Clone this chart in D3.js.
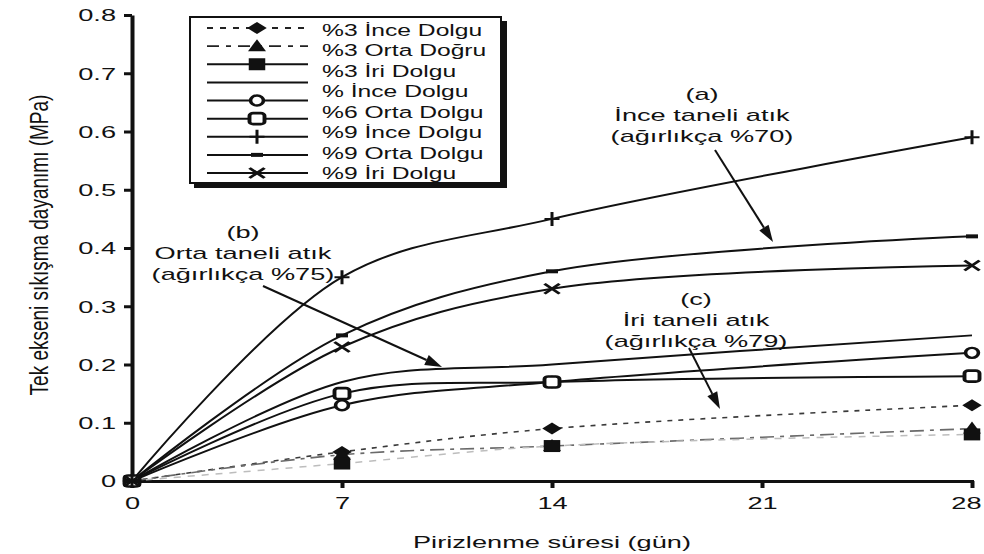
<!DOCTYPE html>
<html>
<head>
<meta charset="utf-8">
<script src="https://cdnjs.cloudflare.com/ajax/libs/d3/7.8.5/d3.min.js"></script>
<style>
  body { margin: 0; background: #fff; }
  svg { display: block; background: #fff; }
  text { font-family: "Liberation Sans", Arial, Helvetica, sans-serif; fill: #111; }
</style>
</head>
<body>
<svg id="chart" width="984" height="554"></svg>
<script>
// Curing time (days) at which specimens were tested
const days = [0, 7, 14, 28];
const xTickValues = [0, 7, 14, 21, 28];
const yTickValues = [0, 0.1, 0.2, 0.3, 0.4, 0.5, 0.6, 0.7, 0.8];

// Unconfined compressive strength (MPa) per mix
const s3Ince = [0, 0.05, 0.09, 0.13];
const s3Orta = [0, 0.045, 0.06, 0.09];
const s3Iri  = [0, 0.03, 0.06, 0.08];
const s6Ince = [0, 0.17, 0.20, 0.25];
const s6Orta = [0, 0.13, 0.17, 0.22];
const s6Iri  = [0, 0.15, 0.17, 0.18];
const s9Ince = [0, 0.35, 0.45, 0.59];
const s9Orta = [0, 0.25, 0.36, 0.42];
const s9Iri  = [0, 0.23, 0.33, 0.37];

const seriesValues  = [s3Ince, s3Orta, s3Iri, s6Ince, s6Orta, s6Iri, s9Ince, s9Orta, s9Iri];
const seriesSymbols = ["diamond", "triangle", "square", "none", "circle", "openSquare", "plus", "dash", "cross"];

// Legend text rows
const legendLabels = [
  "%3 İnce Dolgu", "%3 Orta Doğru", "%3 İri Dolgu", "% İnce Dolgu",
  "%6 Orta Dolgu", "%9 İnce Dolgu", "%9 Orta Dolgu", "%9 İri Dolgu"
];

// Callout texts
const noteA = ["(a)", "İnce taneli atık", "(ağırlıkça %70)"];
const noteB = ["(b)", "Orta taneli atık", "(ağırlıkça %75)"];
const noteC = ["(c)", "İri taneli atık", "(ağırlıkça %79)"];

const xTitle = "Pirizlenme süresi (gün)";
const yTitle = "Tek ekseni sıkışma dayanımı (MPa)";

// ---- styling ----
const SX = 1.6;          // horizontal text stretch
const LSX = 1.45;        // legend text stretch
const MSX = 1.5;         // horizontal marker stretch
const lineStyles = [
  { stroke: "#3a3a3a", width: 1.6, dash: "5,6" },
  { stroke: "#6a6a6a", width: 1.6, dash: "14,6,4,6" },
  { stroke: "#bdbdbd", width: 1.5, dash: "7,7" },
  { stroke: "#111", width: 2, dash: null },
  { stroke: "#111", width: 2, dash: null },
  { stroke: "#111", width: 2, dash: null },
  { stroke: "#111", width: 2, dash: null },
  { stroke: "#111", width: 2, dash: null },
  { stroke: "#111", width: 2, dash: null }
];
const legendLineStyles = [
  { stroke: "#222", width: 1.8, dash: "6,7" },
  { stroke: "#222", width: 1.8, dash: "12,7,5,7" },
  { stroke: "#111", width: 2, dash: null },
  { stroke: "#111", width: 2, dash: null },
  { stroke: "#111", width: 2, dash: null },
  { stroke: "#111", width: 2, dash: null },
  { stroke: "#111", width: 2, dash: null },
  { stroke: "#111", width: 2, dash: null },
  { stroke: "#111", width: 2, dash: null }
];

const svg = d3.select("#chart");

const x = d3.scaleLinear().domain([0, 28]).range([132, 972]);
const y = d3.scaleLinear().domain([0, 0.8]).range([481, 15]);

function stretchedText(parent, px, py, str, size, anchor, sx) {
  return parent.append("text")
    .attr("transform", `translate(${px},${py}) scale(${sx || SX},1)`)
    .attr("text-anchor", anchor || "middle")
    .attr("font-size", size)
    .text(str);
}

function drawMarker(parent, type, cx, cy) {
  if (type === "none") return;
  const g = parent.append("g").attr("transform", `translate(${cx},${cy}) scale(${MSX},1)`);
  switch (type) {
    case "diamond":
      g.append("path").attr("d", "M0,-6L6.5,0L0,6L-6.5,0Z").attr("fill", "#111");
      break;
    case "triangle":
      g.append("path").attr("d", "M0,-7L6,5L-6,5Z").attr("fill", "#111");
      break;
    case "square":
      g.append("rect").attr("x", -5.5).attr("y", -6).attr("width", 11).attr("height", 12).attr("fill", "#111");
      break;
    case "circle":
      g.append("ellipse").attr("rx", 4.3).attr("ry", 5).attr("fill", "#fff")
        .attr("stroke", "#111").attr("stroke-width", 2.4);
      break;
    case "openSquare":
      g.append("rect").attr("x", -5).attr("y", -5.5).attr("width", 10).attr("height", 11)
        .attr("rx", 2.5).attr("fill", "#fff").attr("stroke", "#111").attr("stroke-width", 2.6);
      break;
    case "plus":
      g.append("path").attr("d", "M0,-7V7M-5,0H5").attr("stroke", "#111").attr("stroke-width", 2);
      break;
    case "dash":
      g.append("path").attr("d", "M-4,0H4").attr("stroke", "#111").attr("stroke-width", 4);
      break;
    case "cross":
      g.append("path").attr("d", "M-5,-5L5,5M-5,5L5,-5").attr("stroke", "#111").attr("stroke-width", 2.4);
      break;
  }
}

// ---- axes ----
const yAxis = svg.append("g").attr("transform", `translate(${x(0)},0)`)
  .call(d3.axisLeft(y).tickValues(yTickValues).tickSize(8).tickSizeOuter(0)
    .tickFormat(d => d === 0 ? "0" : d.toFixed(1)));
yAxis.select(".domain").attr("stroke", "#111").attr("stroke-width", 4);
yAxis.selectAll(".tick line").attr("stroke", "#111").attr("stroke-width", 3);
yAxis.selectAll(".tick text")
  .attr("x", -10).attr("dy", "0.35em")
  .attr("transform", `scale(${SX},1)`)
  .attr("font-size", 17).attr("font-family", null).attr("fill", "#111");

const xAxis = svg.append("g").attr("transform", `translate(0,${y(0)})`)
  .call(d3.axisBottom(x).tickValues(xTickValues).tickSize(7).tickSizeOuter(0));
xAxis.select(".domain").attr("stroke", "#111").attr("stroke-width", 3).attr("stroke-linecap", "square");
xAxis.selectAll(".tick line").attr("stroke", "#111").attr("stroke-width", 4);
xAxis.selectAll(".tick text")
  .attr("y", 16).attr("dy", "0.71em")
  .attr("transform", `scale(${SX},1)`)
  .attr("font-size", 17).attr("font-family", null).attr("fill", "#111");
// keep the last label inside the frame
xAxis.selectAll(".tick text").filter(d => d === 28)
  .attr("text-anchor", "end").attr("x", 9 / SX);

// axis titles
stretchedText(svg, 552, 548, xTitle, 17, "middle");
svg.append("text")
  .attr("transform", `translate(48,245) scale(1.35,1) rotate(-90)`)
  .attr("text-anchor", "middle")
  .attr("font-size", 19)
  .text(yTitle);

// ---- series ----
const line = d3.line()
  .x((d, i) => x(days[i]))
  .y(d => y(d))
  .curve(d3.curveCatmullRom.alpha(0.5));

const plot = svg.append("g");
seriesValues.forEach((vals, k) => {
  const st = lineStyles[k];
  plot.append("path")
    .attr("d", line(vals))
    .attr("fill", "none")
    .attr("stroke", st.stroke)
    .attr("stroke-width", st.width)
    .attr("stroke-dasharray", st.dash);
});
seriesValues.forEach((vals, k) => {
  vals.forEach((v, i) => drawMarker(plot, seriesSymbols[k], x(days[i]), y(v)));
});

// ---- legend ----
const lg = svg.append("g");
lg.append("rect").attr("x", 194).attr("y", 21).attr("width", 313).attr("height", 167).attr("fill", "#111");
lg.append("rect").attr("x", 190).attr("y", 17).attr("width", 311).attr("height", 166)
  .attr("fill", "#fff").attr("stroke", "#111").attr("stroke-width", 2);

const symRow = d3.scalePoint().domain(d3.range(seriesSymbols.length)).range([28, 173]);
const txtRow = d3.scalePoint().domain(d3.range(legendLabels.length)).range([30, 173]);

seriesSymbols.forEach((sym, k) => {
  const st = legendLineStyles[k];
  const yy = symRow(k);
  lg.append("line").attr("x1", 207).attr("x2", 308).attr("y1", yy).attr("y2", yy)
    .attr("stroke", st.stroke).attr("stroke-width", st.width).attr("stroke-dasharray", st.dash);
  drawMarker(lg, sym, 257, yy);
});
legendLabels.forEach((lab, k) => {
  stretchedText(lg, 322, txtRow(k) + 6, lab, 17, "start", LSX);
});

// ---- callouts ----
function callout(lines, cx, cy0, from, to) {
  const g = svg.append("g");
  lines.forEach((t, i) => stretchedText(g, cx, cy0 + i * 21, t, 17, "middle"));
  const dx = to[0] - from[0], dy = to[1] - from[1];
  const len = Math.hypot(dx, dy), ux = dx / len, uy = dy / len;
  const head = 17, half = 5.5;
  const bx = to[0] - ux * head, by = to[1] - uy * head;
  g.append("line").attr("x1", from[0]).attr("y1", from[1]).attr("x2", bx).attr("y2", by)
    .attr("stroke", "#111").attr("stroke-width", 2);
  g.append("path")
    .attr("d", `M${to[0]},${to[1]}L${bx - uy * half},${by + ux * half}L${bx + uy * half},${by - ux * half}Z`)
    .attr("fill", "#111");
}
callout(noteA, 702, 100, [715, 150], [773, 242]);
callout(noteB, 243, 238, [263, 286], [442, 367]);
callout(noteC, 696, 305, [689, 348], [720, 409]);
</script>
</body>
</html>
